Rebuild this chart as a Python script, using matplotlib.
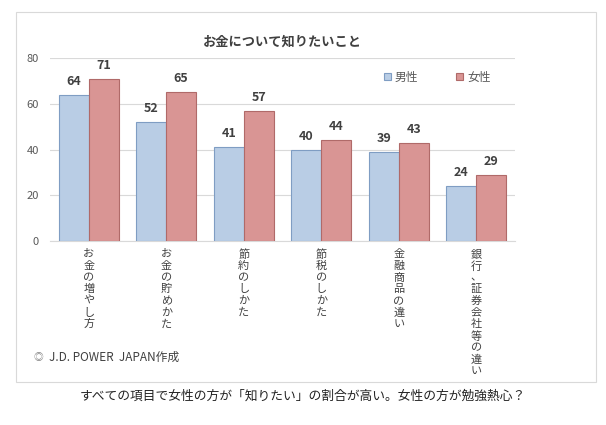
"""お金について知りたいこと - grouped bar chart"""
import matplotlib
matplotlib.use("Agg")
import matplotlib.pyplot as plt
from matplotlib.patches import Rectangle
import numpy as np

plt.rcParams["font.family"] = ["Noto Sans CJK JP", "DejaVu Sans"]

categories = ["お金の増やし方", "お金の貯めかた", "節約のしかた", "節税のしかた",
              "金融商品の違い", "銀行、証券会社等の違い"]
male = [64, 52, 41, 40, 39, 24]
female = [71, 65, 57, 44, 43, 29]
series_names = ["男性", "女性"]
yticks = [0, 20, 40, 60, 80]

fig = plt.figure(figsize=(6.06, 4.25), dpi=100)
fig.patch.set_facecolor("white")

# outer frame
fig.patches.append(Rectangle((16 / 606, 1 - 382 / 425), 580 / 606, 370 / 425,
                             transform=fig.transFigure, fill=False,
                             edgecolor="#D9D9D9", linewidth=0.8))

ax = fig.add_axes([50 / 606, 1 - 241 / 425, 465 / 606, 183 / 425])
x = np.arange(len(categories))
w = 0.385
b1 = ax.bar(x - w / 2, male, w, color="#B9CDE5", edgecolor="#7F9DC3",
            linewidth=0.8, label=series_names[0], zorder=3)
b2 = ax.bar(x + w / 2, female, w, color="#D99594", edgecolor="#B06A69",
            linewidth=0.8, label=series_names[1], zorder=3)

for bars in (b1, b2):
    for r in bars:
        ax.text(r.get_x() + r.get_width() / 2, r.get_height() + 3,
                f"{r.get_height():.0f}", ha="center", va="bottom",
                fontsize=9, fontweight="bold", color="#404040")

ax.set_xlim(-0.5, len(categories) - 0.5)
ax.set_ylim(0, 80)
ax.set_yticks(yticks)
ax.tick_params(axis="y", length=0, labelsize=8, labelcolor="#595959", pad=8)
ax.set_xticks([])
ax.yaxis.grid(True, color="#D9D9D9", linewidth=0.8, zorder=0)
for s in ("top", "right", "left"):
    ax.spines[s].set_visible(False)
ax.spines["bottom"].set_color("#D9D9D9")

# vertical category labels, one character at a time
pitch = 8.4  # points
for i, c in enumerate(categories):
    for k, ch in enumerate(c):
        ax.annotate(ch, xy=(i, 0), xycoords="data",
                    xytext=(0, -6 - k * pitch), textcoords="offset points",
                    ha="center", va="top", fontsize=8, color="#404040",
                    annotation_clip=False)

ax.set_title("お金について知りたいこと", fontsize=9.5, fontweight="bold",
             color="#404040", pad=9)

leg = ax.legend(loc="upper right", bbox_to_anchor=(0.97, 0.99), ncol=2,
                frameon=False, fontsize=8.5, handlelength=0.6, handleheight=0.6,
                columnspacing=3.2, handletextpad=0.3)
for t in leg.get_texts():
    t.set_color("#595959")

fig.text(38 / 606, 1 - 357 / 425, "◎", fontsize=7, color="#808080",
         va="center", ha="center")
fig.text(49 / 606, 1 - 357 / 425, "J.D. POWER  JAPAN作成", fontsize=8.5,
         color="#404040", va="center", ha="left")

fig.text(303 / 606, 1 - 396 / 425,
         "すべての項目で女性の方が「知りたい」の割合が高い。女性の方が勉強熱心？",
         fontsize=9.2, color="#222222", va="center", ha="center")

plt.savefig("out.png", dpi=100)
